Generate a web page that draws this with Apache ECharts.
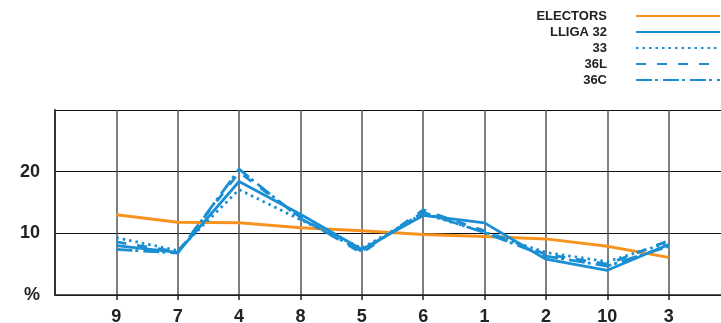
<!DOCTYPE html>
<html>
<head>
<meta charset="utf-8">
<script src="https://cdn.jsdelivr.net/npm/echarts@6/dist/echarts.min.js"></script>
<style>
html,body{margin:0;padding:0;background:#fff;}
#c{width:721px;height:323px;}
</style>
</head>
<body>
<div id="c"></div>
<script>
const categories = ['', '9', '7', '4', '8', '5', '6', '1', '2', '10', '3', ''];
const electors = [null, 13.0, 11.8, 11.7, 10.9, 10.4, 9.8, 9.5, 9.1, 7.9, 6.1, null];
const lliga32 = [null, 8.0, 6.9, 18.4, 13.1, 7.4, 12.9, 11.7, 5.8, 4.0, 8.2, null];
const s33 = [null, 9.3, 7.2, 17.1, 12.2, 7.6, 13.2, 10.2, 6.9, 5.4, 8.5, null];
const s36L = [null, 8.6, 7.0, 19.9, 12.6, 6.8, 13.8, 10.4, 6.6, 5.0, 8.8, null];
const s36C = [null, 7.4, 6.8, 20.4, 12.4, 7.1, 13.4, 10.1, 6.3, 4.7, 7.9, null];
const yTicks = {0: '%', 10: '10', 20: '20', 30: ''};

const ORANGE = '#f7931e';
const BLUE = '#1a8fd3';
const FONT = 'Liberation Sans';

function line(name, data, color, type, width) {
  return {
    name, type: 'line', data, symbol: 'none', silent: true,
    lineStyle: {color, width, type, cap: 'butt'},
    itemStyle: {color}
  };
}

const chart = echarts.init(document.getElementById('c'), null, {renderer: 'canvas'});
chart.setOption({
  animation: false,
  legend: {
    orient: 'vertical', align: 'right', right: 0, top: 9, padding: 0,
    itemWidth: 84, itemHeight: 14, itemGap: 2,
    itemStyle: {opacity: 0},
    textStyle: {fontFamily: FONT, fontWeight: 'bold', fontSize: 13, color: '#222', lineHeight: 14, padding: [0, 24, 0, 0]},
    data: ['ELECTORS', 'LLIGA 32', '33', '36L', '36C']
  },
  grid: {left: 55, top: 110, width: 675, height: 185, containLabel: false, outerBoundsMode: 'none'},
  xAxis: {
    type: 'category', data: categories, boundaryGap: false,
    axisLine: {show: true, lineStyle: {color: '#222', width: 1.5}},
    axisTick: {show: true, length: 5, interval: (i) => i > 0 && i < categories.length - 1, lineStyle: {color: '#222', width: 1.5}},
    axisLabel: {interval: 0, margin: 13, fontFamily: FONT, fontWeight: 'bold', fontSize: 18, color: '#222'},
    splitLine: {show: true, interval: 0, lineStyle: {color: '#555', width: 1.5}}
  },
  yAxis: {
    type: 'value', min: 0, max: 30, interval: 10,
    axisLine: {show: true, lineStyle: {color: '#333', width: 2}},
    axisTick: {show: false},
    axisLabel: {margin: 15, fontFamily: FONT, fontWeight: 'bold', fontSize: 18, color: '#222', formatter: (v) => yTicks[v]},
    splitLine: {show: true, lineStyle: {color: '#111', width: 1.2}}
  },
  series: [
    line('ELECTORS', electors, ORANGE, 'solid', 3),
    line('LLIGA 32', lliga32, BLUE, 'solid', 2.8),
    line('33', s33, BLUE, [2.5, 4], 2.8),
    line('36L', s36L, BLUE, [10, 11], 2.8),
    line('36C', s36C, BLUE, [16, 3, 3, 5], 2.8)
  ]
});
</script>
</body>
</html>
